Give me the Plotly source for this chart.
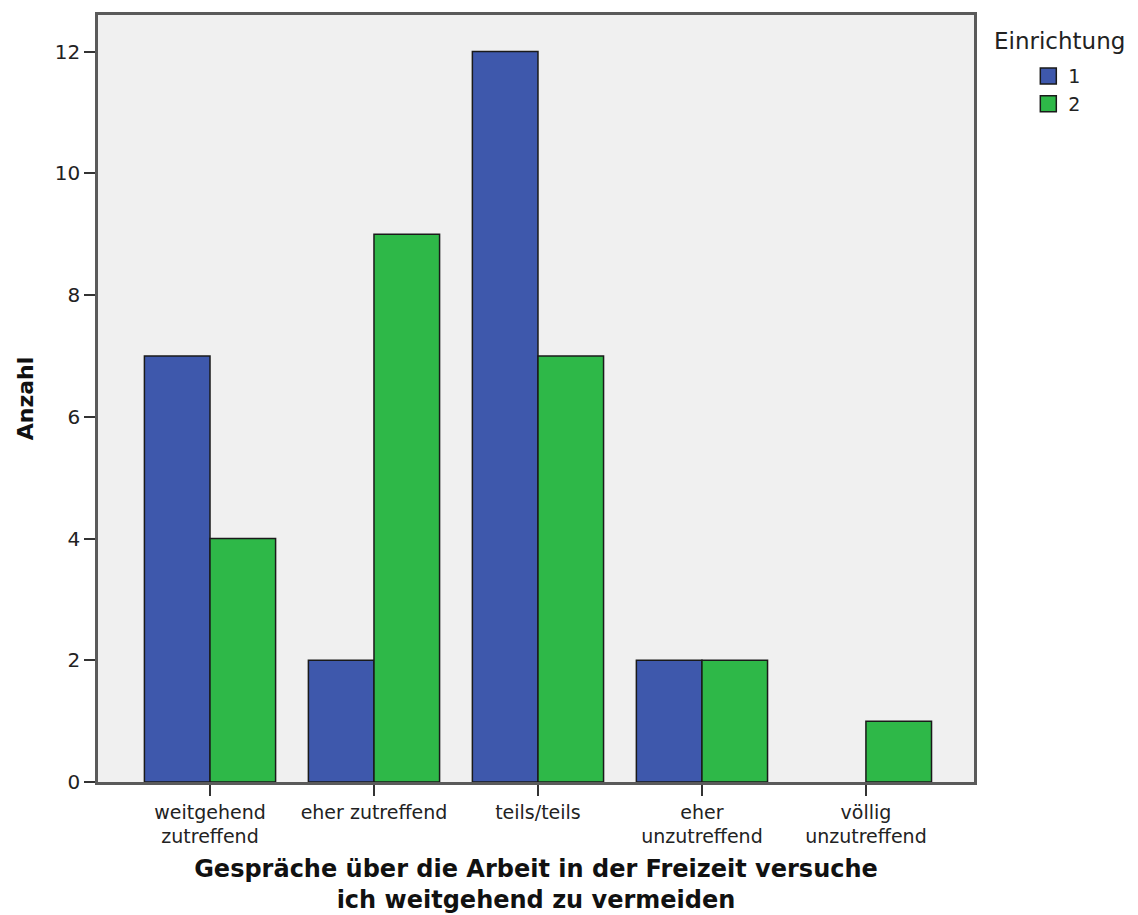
import plotly.graph_objects as go

categories = ["weitgehend<br>zutreffend", "eher zutreffend", "teils/teils", "eher<br>unzutreffend", "völlig<br>unzutreffend"]
einrichtung_1 = [7, 2, 12, 2, 0]
einrichtung_2 = [4, 9, 7, 2, 1]
y_ticks = [0, 2, 4, 6, 8, 10, 12]
series_names = ["1", "2"]

blue = "#3E58AC"
green = "#2EB848"
font_family = "DejaVu Sans, Verdana, sans-serif"

fig = go.Figure()
for vals, name, col in [(einrichtung_1, series_names[0], blue), (einrichtung_2, series_names[1], green)]:
    fig.add_trace(go.Bar(
        x=list(range(len(categories))), y=vals, name=name, showlegend=False,
        marker=dict(color=col, line=dict(color="#1a1a1a", width=[1.5 if v > 0 else 0 for v in vals])),
    ))
    # legend entry with bigger square swatch
    fig.add_trace(go.Scatter(
        x=[None], y=[None], mode="markers", name=name,
        marker=dict(symbol="square", size=16, color=col, line=dict(color="#1a1a1a", width=1.5)),
    ))

fig.update_layout(
    width=1138, height=915,
    margin=dict(l=90, r=172, t=4, b=141),
    paper_bgcolor="white",
    plot_bgcolor="#F0F0F0",
    barmode="group",
    bargap=0.2,
    bargroupgap=0,
    font=dict(family=font_family, size=19, color="#222222"),
    legend=dict(
        x=1.062, xanchor="left", y=0.945, yanchor="top",
        font=dict(size=19, family=font_family, color="#222222"),
        tracegroupgap=0, itemwidth=30,
        bgcolor="rgba(0,0,0,0)",
    ),
    showlegend=True,
    annotations=[dict(
        text="Einrichtung", xref="paper", yref="paper", x=1.0205, y=0.966,
        xanchor="left", yanchor="middle", showarrow=False,
        font=dict(size=23, family=font_family, color="#222222"),
    )],
)
fig.update_xaxes(
    tickmode="array", tickvals=list(range(len(categories))), ticktext=categories,
    range=[-0.683, 4.659],
    showline=True, linecolor="#5a5a5a", linewidth=2.5, mirror=True,
    ticks="outside", ticklen=11, tickcolor="#333333", tickwidth=2,
    showgrid=False, zeroline=False,
    tickfont=dict(size=19, family=font_family, color="#222222"),
    title=dict(text="<b>Gespräche über die Arbeit in der Freizeit versuche<br>ich weitgehend zu vermeiden</b>",
               font=dict(size=24, family=font_family, color="#111111"), standoff=14),
)
fig.update_yaxes(
    range=[0, 12.6],
    tickmode="array", tickvals=y_ticks,
    showline=True, linecolor="#5a5a5a", linewidth=2.5, mirror=True,
    ticks="outside", ticklen=11, tickcolor="#333333", tickwidth=2,
    showgrid=False, zeroline=False,
    tickfont=dict(size=20, family=font_family, color="#222222"),
    title=dict(text="<b>Anzahl</b>", font=dict(size=22, family=font_family, color="#111111"), standoff=16),
)

fig.write_html("out.html")
